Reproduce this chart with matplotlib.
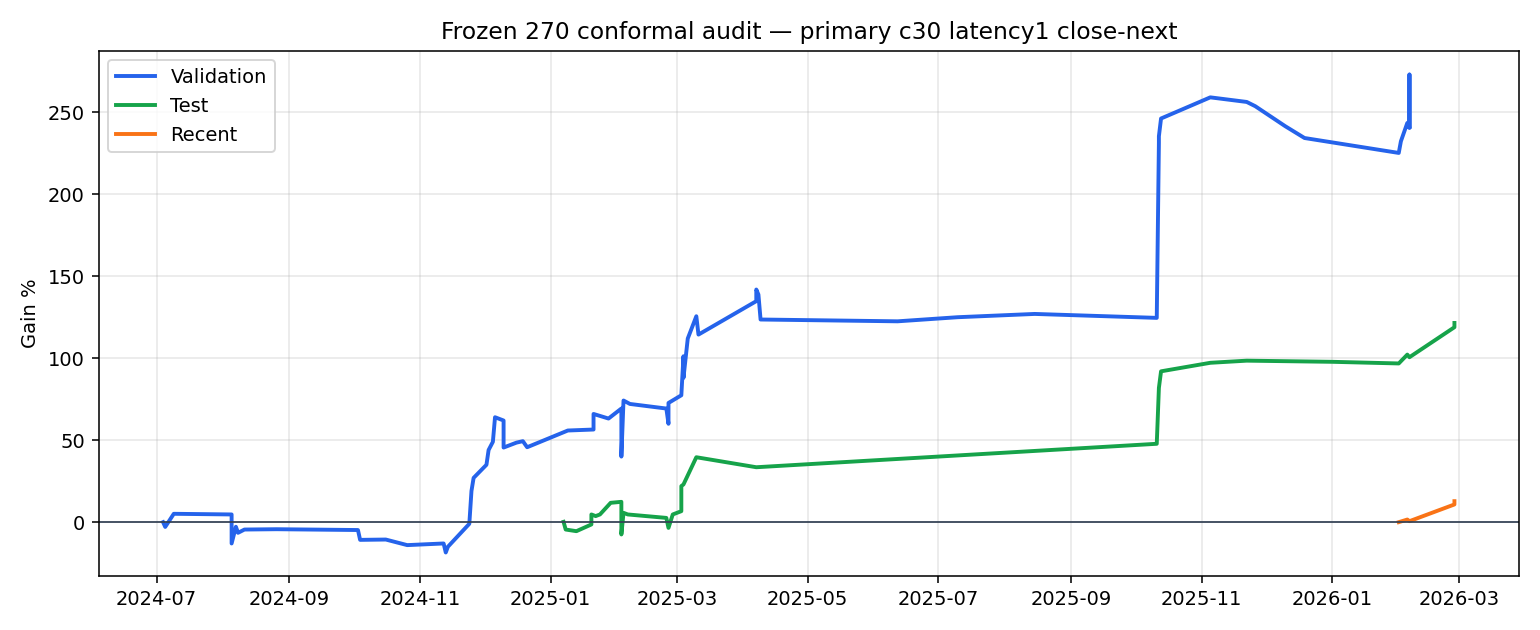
import matplotlib
matplotlib.use("Agg")
import matplotlib.pyplot as plt
import pandas as pd

# validation curve (date, gain %)
val_dates = ["2024-07-04", "2024-07-05", "2024-07-09", "2024-08-05", "2024-08-05", "2024-08-07",
             "2024-08-08", "2024-08-11", "2024-08-26", "2024-10-03", "2024-10-04", "2024-10-16",
             "2024-10-26", "2024-11-12", "2024-11-13", "2024-11-14", "2024-11-24", "2024-11-25",
             "2024-11-26", "2024-12-02", "2024-12-03", "2024-12-05", "2024-12-06", "2024-12-10",
             "2024-12-10", "2024-12-16", "2024-12-19", "2024-12-21", "2025-01-09", "2025-01-21",
             "2025-01-21", "2025-01-28", "2025-02-03", "2025-02-03", "2025-02-04", "2025-02-07",
             "2025-02-24", "2025-02-25", "2025-02-25", "2025-03-03", "2025-03-04", "2025-03-04",
             "2025-03-06", "2025-03-10", "2025-03-11", "2025-04-07", "2025-04-07", "2025-04-08",
             "2025-04-09", "2025-06-12", "2025-07-10", "2025-08-15", "2025-10-11", "2025-10-12",
             "2025-10-12", "2025-10-13", "2025-11-05", "2025-11-22", "2025-11-26", "2025-12-10",
             "2025-12-19", "2026-02-01", "2026-02-02", "2026-02-05", "2026-02-06", "2026-02-06",
             "2026-02-06"]
val_gain = [0.0, -2.9, 5.1, 4.7, -13.0, -2.8,
            -6.5, -4.5, -4.3, -4.8, -10.8, -10.6,
            -14.0, -13.0, -18.5, -15.0, -1.0, 19.0,
            27.0, 35.0, 44.0, 49.0, 64.0, 62.0,
            45.5, 48.5, 49.4, 45.7, 55.9, 56.5,
            66.0, 63.2, 69.3, 40.0, 74.2, 72.1,
            69.3, 60.0, 72.7, 77.4, 101.2, 88.0,
            112.0, 125.6, 114.4, 134.8, 141.9, 138.8,
            123.6, 122.5, 125.0, 127.0, 124.6, 231.3,
            235.4, 246.2, 259.1, 256.3, 253.7, 241.5,
            234.3, 225.2, 232.3, 243.5, 240.4, 273.0,
            241.0]

test_dates = ["2025-01-07", "2025-01-08", "2025-01-13", "2025-01-20", "2025-01-20", "2025-01-22",
              "2025-01-24", "2025-01-29", "2025-02-03", "2025-02-03", "2025-02-04", "2025-02-06",
              "2025-02-24", "2025-02-25", "2025-02-27", "2025-03-03", "2025-03-03", "2025-03-04",
              "2025-03-10", "2025-04-07", "2025-10-11", "2025-10-12", "2025-10-13", "2025-11-05",
              "2025-11-22", "2026-01-01", "2026-02-01", "2026-02-05", "2026-02-06", "2026-02-27",
              "2026-02-27"]
test_gain = [0.2, -4.5, -5.5, -1.4, 4.7, 3.7,
             4.7, 11.8, 12.4, -7.5, 5.7, 4.7,
             2.6, -3.5, 4.7, 6.7, 22.0, 23.0,
             39.6, 33.5, 47.8, 81.9, 92.0, 97.2,
             98.5, 97.8, 96.8, 102.2, 100.6, 118.9,
             121.5]

recent_dates = ["2026-02-01", "2026-02-05", "2026-02-06", "2026-02-27", "2026-02-27"]
recent_gain = [0.0, 1.6, 0.6, 10.8, 12.8]

fig, ax = plt.subplots(figsize=(11, 4.5), dpi=140)

ax.plot(pd.to_datetime(val_dates), val_gain, color="#2563eb", lw=2, label="Validation")
ax.plot(pd.to_datetime(test_dates), test_gain, color="#16a34a", lw=2, label="Test")
ax.plot(pd.to_datetime(recent_dates), recent_gain, color="#f97316", lw=2, label="Recent")
ax.axhline(0, color="#334155", lw=0.9)

ax.set_title("Frozen 270 conformal audit — primary c30 latency1 close-next", fontsize=12)
ax.set_ylabel("Gain %")
ax.grid(True, alpha=0.3)
ax.legend(loc="upper left")

fig.tight_layout()
fig.savefig("out.png")
